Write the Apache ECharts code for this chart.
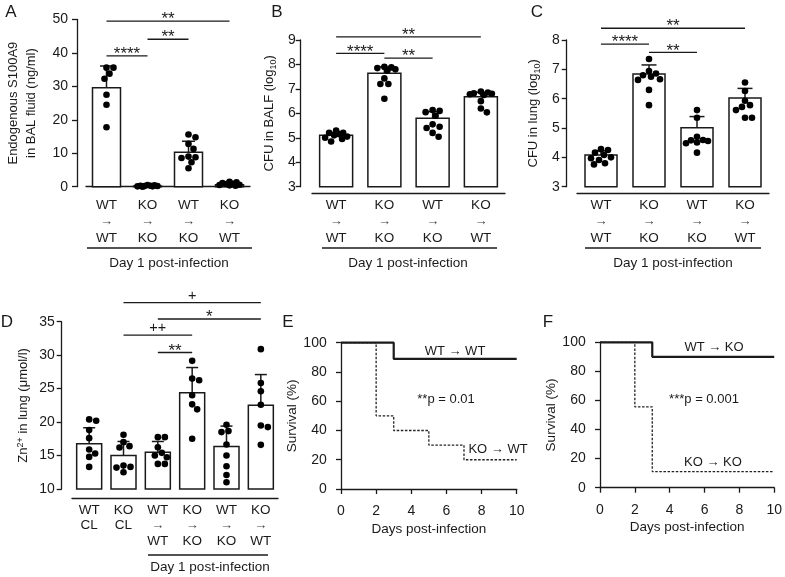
<!DOCTYPE html>
<html>
<head>
<meta charset="utf-8">
<script src="https://cdn.jsdelivr.net/npm/echarts@6/dist/echarts.min.js"></script>
<style>
  html, body { margin: 0; padding: 0; background: #fff; }
  #chart { width: 785px; height: 577px; }
</style>
</head>
<body>
<div id="chart"></div>
<script>
// --- data ---
// A: endogenous S100A9 in BAL fluid (ng/ml)
var donorA = ['WT', 'KO', 'WT', 'KO'];
var recipA = ['WT', 'KO', 'KO', 'WT'];
var meanA = [29.6, 0.2, 10.3, 0.6];
var errTopA = [36.1, 0.5, 13.6, 1.1];
var pointsA = [
  [35.6, 35.6, 33.8, 32.3, 27.5, 24.5, 17.8],
  [0.5, 0.4, 0.3, 0.3, 0.2, 0.2, 0.1, 0.1, 0.0],
  [15.6, 14.8, 12.8, 11.3, 9.0, 8.8, 8.6, 7.3, 5.5],
  [1.5, 1.3, 1.1, 0.9, 0.8, 0.6, 0.5, 0.4, 0.3]
];
var sigA = [[0, 3, 49.5, '**'], [0, 1, 39.1, '****'], [1, 2, 44.1, '**']];

// B: CFU in BALF (log10)
var meanB = [5.1, 7.64, 5.8, 6.68];
var errTopB = [5.22, 7.9, 6.07, 6.86];
var pointsB = [
  [5.3, 5.2, 5.2, 5.15, 5.1, 5.05, 5.0, 4.95, 4.85],
  [7.9, 7.88, 7.85, 7.8, 7.75, 7.43, 7.2, 7.2, 6.6],
  [6.14, 6.1, 6.05, 5.9, 5.55, 5.45, 5.4, 5.2, 5.04],
  [6.89, 6.85, 6.82, 6.8, 6.78, 6.75, 6.5, 6.2, 6.04]
];
var sigB = [[0, 3, 9.13, '**'], [0, 1, 8.45, '****'], [1, 2, 8.26, '**']];

// C: CFU in lung (log10)
var meanC = [4.08, 6.84, 5.01, 6.02];
var errTopC = [4.22, 7.15, 5.39, 6.35];
var pointsC = [
  [4.28, 4.25, 4.16, 4.08, 4.0, 3.97, 3.91, 3.8, 3.76],
  [7.35, 6.94, 6.86, 6.8, 6.75, 6.66, 6.64, 6.3, 5.78],
  [5.61, 5.35, 4.7, 4.59, 4.58, 4.56, 4.51, 4.48, 4.16],
  [6.55, 6.26, 5.93, 5.78, 5.72, 5.61, 5.35, 5.35]
];
var sigC = [[0, 3, 8.4, '**'], [0, 1, 7.86, '****'], [1, 2, 7.58, '**']];

// D: Zn2+ in lung (umol/l)
var donorD = ['WT', 'KO', 'WT', 'KO', 'WT', 'KO'];
var recipD = ['CL', 'CL', 'WT', 'KO', 'KO', 'WT'];
var meanD = [16.75, 15.0, 15.5, 24.4, 16.35, 22.5];
var errTopD = [19.15, 17.1, 17.1, 28.15, 19.4, 27.1];
var pointsD = [
  [20.4, 20.2, 18.8, 17.6, 15.9, 15.3, 14.8, 13.3],
  [18.1, 17.0, 16.4, 16.2, 13.5, 13.3, 13.2, 12.5],
  [17.75, 17.75, 16.25, 15.4, 15.0, 14.75, 13.75, 13.75],
  [29.15, 26.5, 26.25, 24.0, 22.65, 21.9, 17.5],
  [19.6, 18.65, 18.5, 16.65, 15.0, 13.4, 12.1, 11.0],
  [30.9, 25.85, 24.6, 22.6, 19.5, 19.25, 16.6]
];
var sigD = [[1, 5, 37.85, '+'], [2, 5, 35.4, '*'], [1, 3, 33.0, '++'], [2, 3, 30.4, '**']];

// E, F: survival (%) by day post-infection
var survE_WTtoWT = [[0, 100], [3, 88.9], [10, 88.9]];
var survE_KOtoWT = [[0, 100], [2, 50], [3, 40], [5, 30], [7, 20], [10, 20]];
var survF_WTtoKO = [[0, 100], [3, 90], [10, 90]];
var survF_KOtoKO = [[0, 100], [2, 55.6], [3, 11.1], [10, 11.1]];

// --- styling ---
var FONT = "'Liberation Sans', Arial, Helvetica, sans-serif";
var INK = '#1a1a1a';
var DOT = 6.6;

var chart = echarts.init(document.getElementById('chart'), null, { renderer: 'canvas' });

// simple beeswarm: spread points sideways when they would overlap
function swarm(vals, ppu, halfW) {
  var placed = [];
  var offs = new Array(vals.length);
  var order = vals.map(function (v, i) { return i; }).sort(function (a, b) { return vals[b] - vals[a]; });
  order.forEach(function (i) {
    var y = vals[i] * ppu;
    var best = 0, bestScore = -Infinity;
    for (var k = 0; k <= 60; k++) {
      var dx = (k % 2 ? 1 : -1) * Math.ceil(k / 2);
      if (Math.abs(dx) > halfW) continue;
      var minD = Infinity;
      placed.forEach(function (p) { minD = Math.min(minD, Math.hypot(p.x - dx, p.y - y)); });
      if (minD >= DOT) { best = dx; bestScore = Infinity; break; }
      if (minD > bestScore) { bestScore = minD; best = dx; }
    }
    offs[i] = best;
    placed.push({ x: best, y: y });
  });
  return offs;
}

function catLabel(v) {
  var parts = v.split('|');
  if (parts[1] === 'CL') return '{a|' + parts[0] + '}\n{a|' + parts[1] + '}';
  return '{a|' + parts[0] + '}\n{b|\u2192}\n{a|' + parts[1] + '}';
}

var barPanels = [
  { donor: donorA, recip: recipA, mean: meanA, errTop: errTopA, points: pointsA, sig: sigA,
    grid: { left: 86, top: 19.5, width: 164, height: 167.2 }, yMin: 0, yMax: 50, step: 10,
    yOffset: 9, xOffset: 6.3, barWidth: 28, cap: 13, labelMargin: 9, rowH: 16.5,
    name: 'Endogenous S100A9\nin BAL fluid (ng/ml)', nameGap: 37 },
  { donor: donorA, recip: recipA, mean: meanB, errTop: errTopB, points: pointsB, sig: sigB,
    grid: { left: 312, top: 40, width: 193, height: 146.7 }, yMin: 3, yMax: 9, step: 1,
    yOffset: 11.3, xOffset: 6.3, barWidth: 33, cap: 13, labelMargin: 5, rowH: 16.5,
    name: 'CFU in BALF (log{sub|10})', nameGap: 22 },
  { donor: donorA, recip: recipA, mean: meanC, errTop: errTopC, points: pointsC, sig: sigC,
    grid: { left: 577, top: 40, width: 192, height: 146.7 }, yMin: 3, yMax: 8, step: 1,
    yOffset: 10.3, xOffset: 6.3, barWidth: 32, cap: 15, labelMargin: 7, rowH: 16.5,
    name: 'CFU in lung (log{sub|10})', nameGap: 24 },
  { donor: donorD, recip: recipD, mean: meanD, errTop: errTopD, points: pointsD, sig: sigD,
    grid: { left: 72, top: 321.7, width: 206, height: 167.3 }, yMin: 10, yMax: 35, step: 5,
    yOffset: 10.3, xOffset: 9.3, barWidth: 25, cap: 12, labelMargin: 7, rowH: 15.5,
    name: 'Zn{sup|2+} in lung (\u03bcmol/l)', nameGap: 29 }
];

var grids = [], xAxes = [], yAxes = [], series = [];

function axisLineStyle() { return { color: INK, width: 1.3 }; }

barPanels.forEach(function (p, gi) {
  grids.push(p.grid);
  xAxes.push({
    type: 'category', gridIndex: gi, offset: p.xOffset,
    data: p.donor.map(function (d, k) { return d + '|' + p.recip[k]; }),
    axisLine: { lineStyle: axisLineStyle() },
    axisTick: { show: false },
    axisLabel: {
      interval: 0, margin: 4, formatter: catLabel,
      rich: {
        a: { fontSize: 13.5, lineHeight: p.rowH, color: INK, fontFamily: FONT },
        b: { fontSize: 13, lineHeight: p.rowH, color: '#444', fontFamily: FONT }
      }
    }
  });
  yAxes.push({
    type: 'value', gridIndex: gi, min: p.yMin, max: p.yMax, interval: p.step, offset: p.yOffset,
    name: p.name, nameLocation: 'middle', nameRotate: 90, nameGap: p.nameGap,
    nameTextStyle: {
      fontSize: 13, color: INK, fontFamily: FONT, lineHeight: 18,
      rich: {
        sub: { fontSize: 9, color: INK, fontFamily: FONT, padding: [7, 0, 0, 0] },
        sup: { fontSize: 9, color: INK, fontFamily: FONT, padding: [0, 0, 7, 0] }
      }
    },
    axisLine: { show: true, lineStyle: axisLineStyle() },
    axisTick: { show: true, length: 5, lineStyle: axisLineStyle() },
    axisLabel: { fontSize: 14, color: INK, margin: p.labelMargin, fontFamily: FONT },
    splitLine: { show: false }
  });

  // bars
  series.push({
    type: 'custom', xAxisIndex: gi, yAxisIndex: gi, clip: false, z: 2,
    data: p.mean.map(function (v, k) { return [k, v]; }),
    renderItem: function (params, api) {
      var top = api.coord([api.value(0), api.value(1)]);
      var base = api.coord([api.value(0), p.yMin]);
      return {
        type: 'rect',
        shape: { x: top[0] - p.barWidth / 2, y: top[1], width: p.barWidth, height: base[1] - top[1] },
        style: { fill: '#fff', stroke: INK, lineWidth: 1.5 }
      };
    }
  });
  // error bars (upper SD)
  series.push({
    type: 'custom', xAxisIndex: gi, yAxisIndex: gi, clip: false, z: 3,
    data: p.mean.map(function (v, k) { return [k, v, p.errTop[k]]; }),
    renderItem: function (params, api) {
      var a = api.coord([api.value(0), api.value(1)]);
      var b = api.coord([api.value(0), api.value(2)]);
      var st = { stroke: INK, lineWidth: 1.5 };
      return {
        type: 'group', children: [
          { type: 'line', shape: { x1: a[0], y1: a[1], x2: b[0], y2: b[1] }, style: st },
          { type: 'line', shape: { x1: b[0] - p.cap / 2, y1: b[1], x2: b[0] + p.cap / 2, y2: b[1] }, style: st }
        ]
      };
    }
  });
  // individual animals
  var ppu = p.grid.height / (p.yMax - p.yMin);
  var dots = [];
  p.points.forEach(function (vals, k) {
    var offs = swarm(vals, ppu, p.barWidth * 0.36);
    vals.forEach(function (v, j) { dots.push([k, v, offs[j]]); });
  });
  series.push({
    type: 'custom', xAxisIndex: gi, yAxisIndex: gi, clip: false, z: 4,
    data: dots,
    renderItem: function (params, api) {
      var c = api.coord([api.value(0), api.value(1)]);
      return { type: 'circle', shape: { cx: c[0] + api.value(2), cy: c[1], r: DOT / 2 }, style: { fill: '#000' } };
    }
  });
  // significance brackets
  series.push({
    type: 'custom', xAxisIndex: gi, yAxisIndex: gi, clip: false, z: 5,
    data: p.sig.map(function (s) { return [s[0], s[2], s[1]]; }),
    renderItem: function (params, api) {
      var a = api.coord([api.value(0), api.value(1)]);
      var b = api.coord([api.value(2), api.value(1)]);
      var txt = p.sig[params.dataIndex][3];
      var plus = txt.indexOf('+') >= 0;
      return {
        type: 'group', children: [
          { type: 'line', shape: { x1: a[0], y1: a[1], x2: b[0], y2: b[1] }, style: { stroke: INK, lineWidth: 1.3 } },
          { type: 'text', x: (a[0] + b[0]) / 2, y: a[1] - (plus ? 7 : 1.5),
            style: { text: txt, fontSize: plus ? 14.5 : 17, fontFamily: FONT, fill: INK, align: 'center', verticalAlign: 'middle' } }
        ]
      };
    }
  });
});

// survival panels
var survPanels = [
  { grid: { left: 341, top: 342.7, width: 175.7, height: 146.3 }, yOffset: 8.3, xOffset: 9.3,
    solid: survE_WTtoWT, dashed: survE_KOtoWT },
  { grid: { left: 600, top: 342.3, width: 175.7, height: 145.4 }, yOffset: 8.3, xOffset: 9,
    solid: survF_WTtoKO, dashed: survF_KOtoKO }
];
survPanels.forEach(function (p, k) {
  var gi = grids.length;
  grids.push(p.grid);
  xAxes.push({
    type: 'value', gridIndex: gi, min: 0, max: 10, interval: 2, offset: p.xOffset,
    name: 'Days post-infection', nameLocation: 'middle', nameGap: 24,
    nameTextStyle: { fontSize: 13.5, color: INK, fontFamily: FONT },
    axisLine: { lineStyle: axisLineStyle() },
    axisTick: { show: true, length: 5, lineStyle: axisLineStyle() },
    axisLabel: { fontSize: 14, color: INK, margin: 6, fontFamily: FONT },
    splitLine: { show: false }
  });
  yAxes.push({
    type: 'value', gridIndex: gi, min: 0, max: 100, interval: 20, offset: p.yOffset,
    name: 'Survival (%)', nameLocation: 'middle', nameRotate: 90, nameGap: 33,
    nameTextStyle: { fontSize: 13.5, color: INK, fontFamily: FONT },
    axisLine: { show: true, lineStyle: axisLineStyle() },
    axisTick: { show: true, length: 5, lineStyle: axisLineStyle() },
    axisLabel: { fontSize: 14, color: INK, margin: 6, fontFamily: FONT },
    splitLine: { show: false }
  });
  series.push({
    type: 'line', xAxisIndex: gi, yAxisIndex: gi, step: 'end', symbol: 'none', clip: false,
    data: p.dashed, z: 2,
    lineStyle: { color: '#222', width: 1.3, type: [2.5, 1.6] }
  });
  series.push({
    type: 'line', xAxisIndex: gi, yAxisIndex: gi, step: 'end', symbol: 'none', clip: false,
    data: p.solid, z: 3,
    lineStyle: { color: INK, width: 2.2 }
  });
});

function txt(x, y, s, size) {
  return { type: 'text', x: x, y: y, style: { text: s, fontSize: size || 13, fontFamily: FONT, fill: INK, align: 'center', verticalAlign: 'middle' } };
}
function hline(x1, x2, y) {
  return { type: 'line', shape: { x1: x1, y1: y, x2: x2, y2: y }, style: { stroke: INK, lineWidth: 1.3 } };
}

var graphics = [
  txt(11, 12, 'A', 17), txt(277, 12, 'B', 17), txt(537, 12, 'C', 17),
  txt(7, 322, 'D', 17), txt(288, 322, 'E', 17), txt(548, 322, 'F', 17),
  hline(87, 252, 248), txt(169, 263, 'Day 1 post-infection', 13.5),
  hline(322, 497, 248), txt(408, 263, 'Day 1 post-infection', 13.5),
  hline(585, 761, 248), txt(673, 263, 'Day 1 post-infection', 13.5),
  hline(148, 268, 555), txt(210, 567, 'Day 1 post-infection', 13.5),
  txt(455, 351, 'WT \u2192 WT'), txt(446, 399, '**p = 0.01'), txt(498, 449, 'KO \u2192 WT'),
  txt(714, 347, 'WT \u2192 KO'), txt(704, 399, '***p = 0.001'), txt(713, 462, 'KO \u2192 KO')
];

chart.setOption({
  animation: false,
  backgroundColor: '#fff',
  textStyle: { fontFamily: FONT, color: INK },
  grid: grids,
  xAxis: xAxes,
  yAxis: yAxes,
  series: series,
  graphic: graphics
});
</script>
</body>
</html>
